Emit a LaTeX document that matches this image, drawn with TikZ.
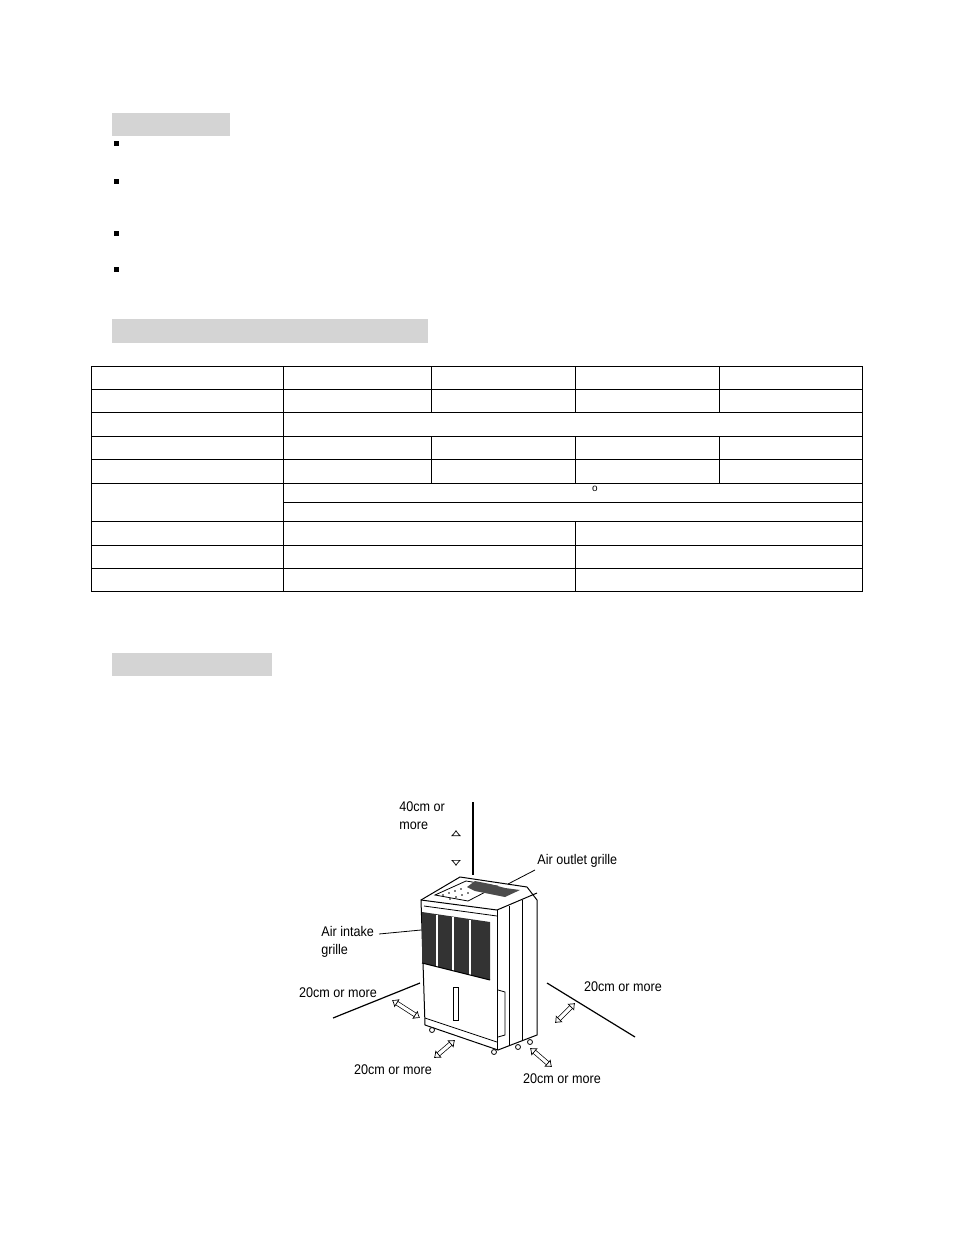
\documentclass[tikz,border=0pt]{standalone}
\usepackage{fontspec}
\setmainfont{Liberation Sans}
\usetikzlibrary{arrows.meta}
\definecolor{bargray}{HTML}{D4D4D4}
\tikzset{
  bar/.style={fill=bargray,draw=none},
  tb/.style={line width=0.5pt},
  lbl/.style={font=\fontsize{7}{8}\selectfont\addfontfeature{FakeStretch=0.9},inner sep=0pt,align=left},
  dbl/.style={double distance=1.6pt,line width=0.35pt,{Latex[open,length=3pt,width=5pt]}-{Latex[open,length=3pt,width=5pt]}},
  ln/.style={line width=0.6pt},
  bl/.style={fill=black,draw=none}
}
\begin{document}
\begin{tikzpicture}[x=0.5pt,y=-0.5pt]
\useasboundingbox[fill=white] (0,0) rectangle (954,1235);
% heading bars
\fill[bar] (112,113) rectangle (230,136);
\fill[bar] (112,319) rectangle (428,343);
\fill[bar] (112,653) rectangle (272,676);
% bullets
\foreach \y in {144,182,234,270} \fill[bl] (114,\y-3) rectangle (119,\y+2);
% table
\draw[tb] (91,366) rectangle (862,591);
\foreach \y in {389,412,436,459,483,521,545,568} \draw[tb] (91,\y) -- (862,\y);
\draw[tb] (283,502) -- (862,502);
\draw[tb] (283,366) -- (283,591);
\foreach \x in {431,575,719} {\draw[tb] (\x,366) -- (\x,412); \draw[tb] (\x,436) -- (\x,483);}
\draw[tb] (575,521) -- (575,591);
\node[font=\tiny,inner sep=0pt] (deg) at (595,489) {o};
% illustration
\draw[ln] (473,802) -- (473,875);
\node[lbl,anchor=north west] (t40) at (399,801) {40cm or\\[1pt]more};
\draw[dbl] (456,830) -- (456,866);
\coordinate (ao1) at (508,884); \coordinate (ao2) at (535,870);
\draw[ln,line width=0.4pt] (ao1) -- (ao2);
\node[lbl,anchor=west] (aot) at (537,861) {Air outlet grille};
\node[lbl,anchor=north west] (ait) at (321,926) {Air intake\\[1pt]grille};
\coordinate (ai2) at (421,930);
\draw[line width=0.4pt] (379,934) -- (ai2);
% floor lines
\draw[ln] (333,1018) -- (420,983);
\draw[ln] (547,983) -- (635,1037);
% unit: top
\draw[line width=0.5pt,fill=white] (421,900) -- (460,877) -- (527,887) -- (537,900) -- (537,1035) -- (498,1050) -- (425,1025) -- cycle;
\draw[line width=0.5pt] (421,900) -- (497,910) -- (537,893);
\draw[line width=0.5pt] (497,910) -- (497,1050);
\draw[line width=0.4pt] (509,906) -- (509,1046);
\draw[line width=0.4pt] (522,900) -- (522,1040);
\draw[line width=0.4pt] (424,906) -- (497,916);
% control panel
\draw[line width=0.4pt] (435,895) -- (466,881) -- (497,886) -- (468,901) -- cycle;
\foreach \i in {0,1,2,3} {\fill (443+6*\i,894-2*\i+1) circle (0.9); \fill (450+6*\i,898-2*\i+1) circle (0.9);}
\fill[black!70] (475,881) -- (490,884) -- (505,888) -- (520,890) -- (505,897) -- (490,894) -- (475,891) -- (467,887) -- cycle;
% grille
\fill[black!80] (422,912) -- (490,922) -- (490,980) -- (422,963) -- cycle;
\foreach \x in {437,453,470} \draw[white,line width=0.8pt] (\x,912+0.15*\x-63) -- (\x,963+0.25*\x-105);
\draw[line width=0.5pt] (422,963) -- (490,980);
% window and side
\draw[line width=0.4pt] (453,987) rectangle (458,1020);
\draw[line width=0.4pt] (498,990) -- (505,992) -- (505,1035) -- (498,1037);
\draw[line width=0.4pt] (425,1018) -- (497,1042);
% wheels
\foreach \p in {(432,1030),(494,1052),(518,1047),(530,1042)} \draw[line width=0.4pt,fill=white] \p circle (2.5);
% clearance arrows
\draw[dbl] (392,1000) -- (420,1018);
\node[lbl] (tl) at (338,993) {20cm or more};
\draw[dbl] (434,1058) -- (455,1040);
\node[lbl] (tb1) at (393,1070) {20cm or more};
\draw[dbl] (530,1048) -- (552,1067);
\node[lbl] (tb2) at (562,1079) {20cm or more};
\draw[dbl] (555,1023) -- (575,1003);
\node[lbl] (tr) at (623,987) {20cm or more};
\end{tikzpicture}
\end{document}
